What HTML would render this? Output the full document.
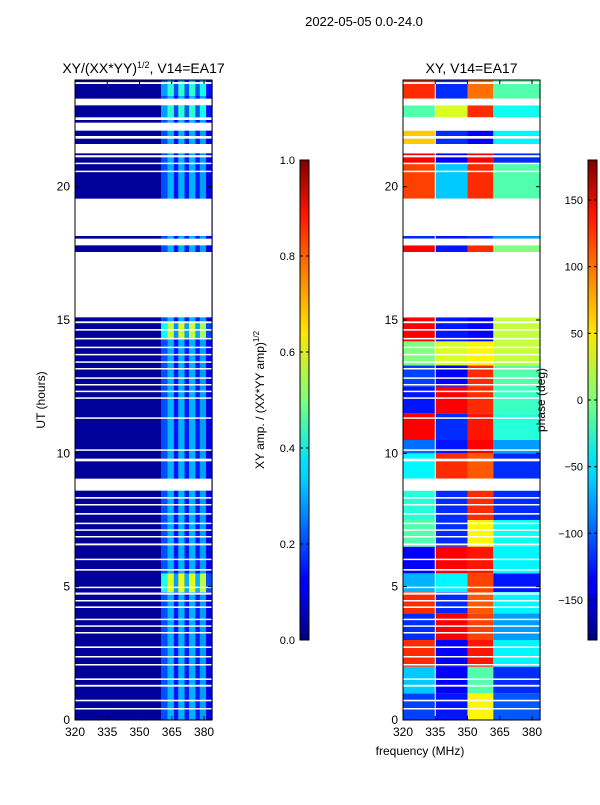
<!DOCTYPE html>
<html><head><meta charset="utf-8">
<style>
body{margin:0;background:#fff;font-family:"Liberation Sans",sans-serif;}
svg text{font-family:"Liberation Sans",sans-serif;}
</style></head><body>
<svg id="chart" width="600" height="800" xmlns="http://www.w3.org/2000/svg">
<defs>
<linearGradient id="jet" x1="0" y1="1" x2="0" y2="0">
<stop offset="0" stop-color="#00007f"/><stop offset="0.11" stop-color="#0000ff"/><stop offset="0.125" stop-color="#0000ff"/>
<stop offset="0.34" stop-color="#00d4ff"/><stop offset="0.375" stop-color="#00e5f7"/><stop offset="0.5" stop-color="#7dff7a"/>
<stop offset="0.64" stop-color="#ffe600"/><stop offset="0.75" stop-color="#ff8c00"/><stop offset="0.89" stop-color="#ff1300"/><stop offset="1" stop-color="#7f0000"/>
</linearGradient>
</defs>
<text x="364" y="26" font-size="13" text-anchor="middle">2022-05-05 0.0-24.0</text>
<g id="left"></g>
<g id="right"></g>
</svg>
<script>
const NS="http://www.w3.org/2000/svg";
const svg=document.getElementById('chart');
// data
const gapsHours=[[23.85,23.92],[23.05,23.3],[22.5,22.6],[22.1,22.4],[21.8,21.9],[21.25,21.6],[21.1,21.18],[20.85,20.9],[20.55,20.6],[18.15,19.55],[17.8,18.05],[15.1,17.55],[14.88,14.95],[14.6,14.66],[14.27,14.33],[13.95,14.0],[13.68,13.73],[13.4,13.45],[13.15,13.2],[12.8,12.85],[12.55,12.6],[12.3,12.35],[12.05,12.1],[11.3,11.35],[10.1,10.15],[9.7,9.8],[8.6,9.05],[8.3,8.36],[8.05,8.1],[7.7,7.76],[7.35,7.4],[7.1,7.15],[6.85,6.9],[6.55,6.62],[6.0,6.05],[5.6,5.66],[4.95,5.0],[4.7,4.78],[4.45,4.5],[4.2,4.26],[3.75,3.8],[3.5,3.55],[3.25,3.3],[2.7,2.76],[2.35,2.4],[2.05,2.1],[1.5,1.56],[1.25,1.32],[0.7,0.76],[0.4,0.45]];
const ampCols=[[360,363,0.2],[363,366,0.3],[366,368,0.14],[368,371,0.3],[371,373,0.15],[373,376,0.3],[376,378,0.15],[378,381,0.28],[381,384,0.1]];
const ampBoost=[[4.8,5.5,2.0],[14.3,14.9,1.9],[22.6,23.05,1.4],[23.4,23.85,1.4]];
const phaseFreqEdges=[320,335,350,362,384];
const phaseBands=[
[0,1,-140,-160,60,-130],[1,2,-80,-170,-20,-150],[2,3,150,-170,160,-60],[3,4,-150,170,140,-100],
[4,4.8,150,-150,130,-60],[4.8,5.5,-90,-60,140,-160],[5.5,6.5,-170,170,160,-60],[6.5,7.5,-20,-150,60,-50],
[7.5,8.6,-40,-150,150,-150],[9.05,10,-60,150,130,-150],[10,10.5,-120,-160,170,-100],[10.5,11.5,170,-150,160,-40],
[11.5,12.5,-160,170,150,-30],[12.5,13.3,-140,-170,150,-20],[13.3,14.2,0,40,60,30],[14.2,15.1,170,-160,-170,30],
[17.55,17.8,170,-160,150,0],[18.05,18.15,-150,-160,-150,-100],[19.55,20.85,140,-80,150,-20],[20.85,21.25,170,-170,170,-150],
[21.6,22.1,80,-150,-170,-60],[22.6,23.05,-20,40,150,-50],[23.3,24,150,-150,120,-20]];
const yTicks=[0,5,10,15,20];
const xTicks=[320,335,350,365,380];

function jet(v){v=Math.max(0,Math.min(1,v));
 const r=Math.min(4*v-1.5,-4*v+4.5),g=Math.min(4*v-0.5,-4*v+3.5),b=Math.min(4*v+0.5,-4*v+2.5);
 const c=x=>Math.round(255*Math.max(0,Math.min(1,x)));return `rgb(${c(r)},${c(g)},${c(b)})`;}
function mk(tag,attrs,parent){const e=document.createElementNS(NS,tag);for(const k in attrs)e.setAttribute(k,attrs[k]);parent.appendChild(e);return e;}

function panel(gid,x0,isAmp,title){
 const g=document.getElementById(gid);
 const W=137,top=80,bot=720;
 const xs=f=>x0+(f-320)/(383.7-320)*W;
 const ys=h=>bot-h*(bot-top)/24;
 if(isAmp){
  const r=mk('rect',{x:x0,y:top,width:W,height:bot-top,fill:'#00009a'},g);
  
  
  const nb=[[0,4.8],[5.5,14.3],[14.9,22.6],[23.05,23.4],[23.85,24]].concat(ampBoost.map(b=>[b[0],b[1]]));
  nb.forEach((seg,i)=>{const boost=i<5?1:ampBoost[i-5][2];
   ampCols.forEach(c=>{const e=mk('rect',{x:xs(c[0]),y:ys(seg[1]),width:xs(c[1])-xs(c[0]),height:ys(seg[0])-ys(seg[1]),fill:jet(Math.min(0.75,c[2]*boost))},g);
    
    });});
 }else{
  phaseBands.forEach(b=>{for(let k=0;k<4;k++){
   const v=0.1+0.8*(b[2+k]+180)/360;
   const e=mk('rect',{x:xs(phaseFreqEdges[k]),y:ys(b[1]),width:xs(phaseFreqEdges[k+1])-xs(phaseFreqEdges[k]),height:ys(b[0])-ys(b[1]),fill:jet(v)},g);
   
   }});
  mk('line',{x1:xs(335),x2:xs(335),y1:top,y2:bot,stroke:'#fff','stroke-width':1},g);
 }
 gapsHours.forEach(gp=>{const e=mk('rect',{x:x0,y:ys(gp[1]),width:W,height:Math.max(1.5,ys(gp[0])-ys(gp[1])),fill:'#fff'},g);
  
  });
 mk('rect',{x:x0,y:top,width:W,height:bot-top,fill:'none',stroke:'#000'},g);
 yTicks.forEach(t=>{const y=ys(t);
  mk('line',{x1:x0,x2:x0+4,y1:y,y2:y,stroke:'#000'},g);mk('line',{x1:x0+W-4,x2:x0+W,y1:y,y2:y,stroke:'#000'},g);
  const tx=mk('text',{x:x0-5,y:y+4,'font-size':12,'text-anchor':'end'},g);tx.textContent=t;
  
  });
 xTicks.forEach(t=>{const x=xs(t);
  mk('line',{x1:x,x2:x,y1:bot,y2:bot-4,stroke:'#000'},g);mk('line',{x1:x,x2:x,y1:top,y2:top+4,stroke:'#000'},g);
  const tx=mk('text',{x:x,y:bot+16,'font-size':12,'text-anchor':'middle'},g);tx.textContent=t;
  
  });
 const tt=mk('text',{x:x0+W/2,y:73,'font-size':14,'text-anchor':'middle'},g);
 tt.innerHTML=title;
 
 
}
panel('left',75,true,'XY/(XX*YY)<tspan font-size="9" dy="-5">1/2</tspan><tspan dy="5">, V14=EA17</tspan>');
panel('right',403,false,'XY, V14=EA17');

function colorbar(x,ticks,lo,hi,label,lx,name){
 const g=mk('g',{},svg);
 
 
 mk('rect',{x:x,y:160,width:9,height:480,fill:'url(#jet)',stroke:'#000'},g);
 ticks.forEach(t=>{const y=640-(t-lo)/(hi-lo)*480;
  mk('line',{x1:x,x2:x+3,y1:y,y2:y,stroke:'#000'},g);mk('line',{x1:x+6,x2:x+9,y1:y,y2:y,stroke:'#000'},g);
  const tx=mk('text',{x:x-5,y:y+4,'font-size':11,'text-anchor':'end'},g);tx.textContent=(lo===0?t.toFixed(1):(t<0?'\u2212'+(-t):t));
  
  });
 const l=mk('text',{x:lx,y:400,'font-size':12,'text-anchor':'middle',transform:`rotate(-90 ${lx} 400)`},g);
 l.innerHTML=label;
 
 
}
const ampCbTicks=[0,0.2,0.4,0.6,0.8,1.0];
const phaseCbTicks=[-150,-100,-50,0,50,100,150];
colorbar(300,ampCbTicks,0,1,'XY amp. / (XX*YY amp)<tspan font-size="8" dy="-5">1/2</tspan>',264,'amplitude-colorbar');
colorbar(588,phaseCbTicks,-180,180,'phase (deg)',545,'phase-colorbar');
const yl=document.createElementNS(NS,'text');
yl.setAttribute('x',45);yl.setAttribute('y',400);yl.setAttribute('font-size',12);yl.setAttribute('text-anchor','middle');yl.setAttribute('transform','rotate(-90 45 400)');
yl.textContent='UT (hours)';


svg.appendChild(yl);
const xl=document.createElementNS(NS,'text');
xl.setAttribute('x',420);xl.setAttribute('y',755);xl.setAttribute('font-size',12);xl.setAttribute('text-anchor','middle');
xl.textContent='frequency (MHz)';


svg.appendChild(xl);
</script>
</body></html>
